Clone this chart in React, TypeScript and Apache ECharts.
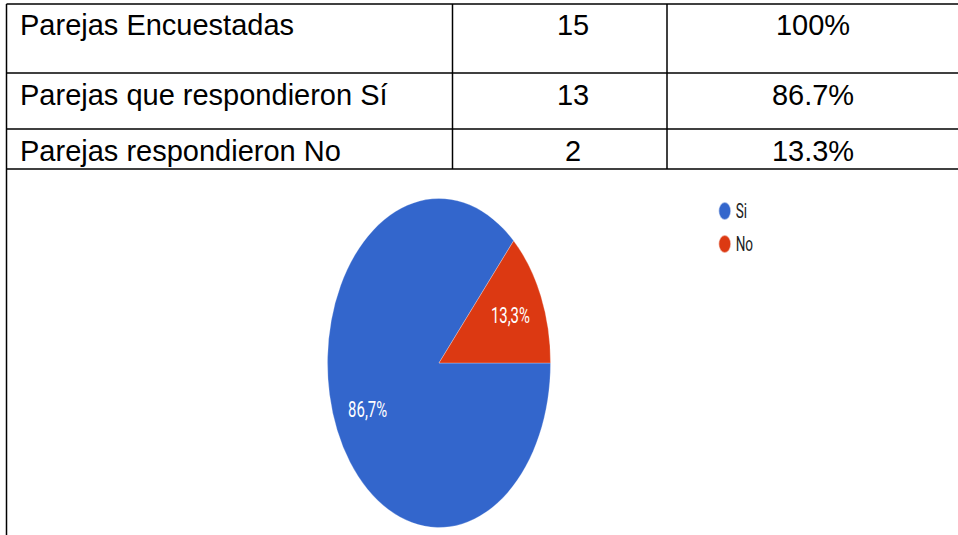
import React, { useEffect, useRef } from "react";
import * as echarts from "echarts";

const rowLabels = ["Parejas Encuestadas", "Parejas que respondieron Sí", "Parejas respondieron No"];
const rowCounts = ["15", "13", "2"];
const rowPercents = ["100%", "86.7%", "13.3%"];

const pieNames = ["Si", "No"];
const pieValues = [13, 2];
const pieColors = ["#3366CC", "#DC3912"];

const SQUASH = 0.678;

export default function App() {
  const tableRef = useRef<HTMLDivElement>(null);
  const pieRef = useRef<HTMLDivElement>(null);

  useEffect(() => {
    document.body.style.margin = "0";
    const t = echarts.init(tableRef.current!, null, { renderer: "svg" });
    const p = echarts.init(pieRef.current!, null, { renderer: "svg" });

    const lineY = [4, 73, 129, 169];
    const textY = [24.5, 95, 150.5];
    const colX = [452.5, 667];
    const elements: any[] = [];
    const ls = { stroke: "#000", lineWidth: 1.5 };
    lineY.forEach((y) =>
      elements.push({ type: "line", shape: { x1: 6.5, y1: y, x2: 960, y2: y }, style: ls })
    );
    elements.push({ type: "line", shape: { x1: 6.5, y1: 4, x2: 6.5, y2: 535 }, style: ls });
    colX.forEach((x) =>
      elements.push({ type: "line", shape: { x1: x, y1: 4, x2: x, y2: 169 }, style: ls })
    );
    const font = '29px "Liberation Sans", Arial, sans-serif';
    rowLabels.forEach((lab, i) => {
      elements.push({
        type: "text",
        x: 20,
        y: textY[i],
        style: { text: lab, font, fill: "#000", align: "left", verticalAlign: "middle" },
      });
      elements.push({
        type: "text",
        x: 573,
        y: textY[i],
        style: { text: rowCounts[i], font, fill: "#000", align: "center", verticalAlign: "middle" },
      });
      elements.push({
        type: "text",
        x: 813,
        y: textY[i],
        style: { text: rowPercents[i], font, fill: "#000", align: "center", verticalAlign: "middle" },
      });
    });

    t.setOption({ animation: false, graphic: elements });

    const cx = 439 / SQUASH;
    const data = pieNames.map((n, i) => ({ name: n, value: pieValues[i] }));
    const ellipseIcon = "path://M0,50 A50,50 0 1,0 100,50 A50,50 0 1,0 0,50 Z";
    p.setOption({
      animation: false,
      color: pieColors,
      legend: {
        orient: "vertical",
        left: 1054,
        top: 196,
        itemWidth: 22,
        itemHeight: 18,
        itemGap: 13,
        icon: ellipseIcon,
        data: pieNames,
        textStyle: { fontFamily: "Roboto", fontSize: 20, color: "#222", padding: [0, 0, 0, 0] },
      },
      series: [
        {
          type: "pie",
          center: [cx, 363],
          radius: [0, 164.5],
          startAngle: 0,
          clockwise: true,
          data,
          label: { show: false },
          labelLine: { show: false },
          itemStyle: { borderWidth: 0.6, borderColor: "#ffffff88" },
          silent: true,
        },
        {
          type: "pie",
          center: [cx, 363],
          radius: [60, 164.5],
          startAngle: 0,
          clockwise: true,
          data,
          itemStyle: { color: "transparent" },
          label: {
            show: true,
            position: "inside",
            color: "#fff",
            fontFamily: "Roboto",
            fontSize: 22,
            formatter: (q: any) => q.percent.toFixed(1).replace(".", ",") + "%",
          },
          labelLine: { show: false },
          silent: true,
        },
      ],
    });

    return () => {
      t.dispose();
      p.dispose();
    };
  }, []);

  return (
    <div style={{ position: "absolute", left: 0, top: 0, width: 958, height: 535, overflow: "hidden", background: "#fff" }}>
      <div ref={tableRef} style={{ position: "absolute", left: 0, top: 0, width: 958, height: 535 }} />
      <div
        ref={pieRef}
        style={{
          position: "absolute",
          left: 0,
          top: 0,
          width: Math.round(958 / SQUASH),
          height: 535,
          transform: `scaleX(${SQUASH})`,
          transformOrigin: "0 0",
        }}
      />
    </div>
  );
}
